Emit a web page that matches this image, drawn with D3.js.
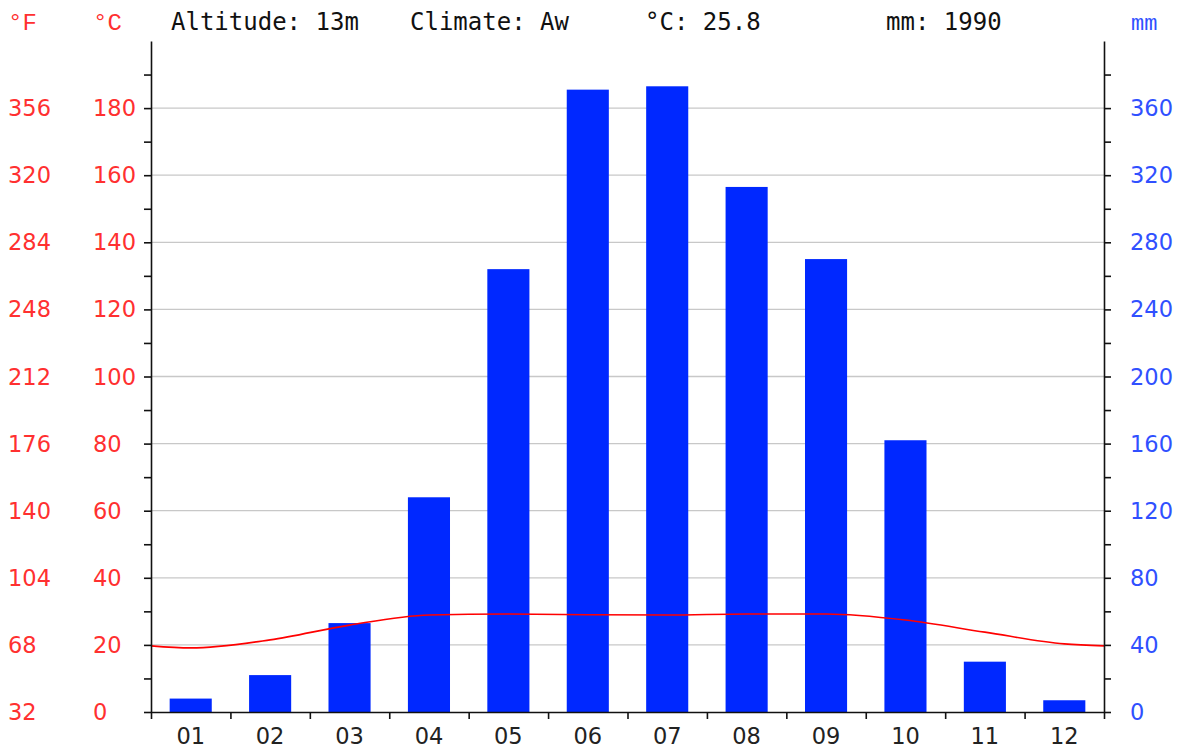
<!DOCTYPE html>
<html>
<head>
<meta charset="utf-8">
<script src="https://cdnjs.cloudflare.com/ajax/libs/d3/7.8.5/d3.min.js"></script>
<style>
  body { margin: 0; background: #fff; }
  svg text { font-family: "DejaVu Sans", sans-serif; }
</style>
</head>
<body>
<div id="chart"></div>
<script>
var width = 1183, height = 751

// data
var months = ['01', '02', '03', '04', '05', '06', '07', '08', '09', '10', '11', '12']
var precip = [8, 22, 53, 128, 264, 371, 373, 313, 270, 162, 30, 7]
var temps = [19.1, 21.5, 25.9, 28.9, 29.2, 29.0, 28.9, 29.2, 29.2, 27.4, 23.8, 20.3]
var tempEdge = 19.7   // value where the curve meets both side axes
var celsiusTicks = [0, 20, 40, 60, 80, 100, 120, 140, 160, 180]
var mmTicks = [0, 40, 80, 120, 160, 200, 240, 280, 320, 360]
var header = [
  { text: 'Altitude: 13m', x: 171 },
  { text: 'Climate: Aw', x: 410 },
  { text: '°C: 25.8', x: 645 },
  { text: 'mm: 1990', x: 886 }
]

var plotLeft = 151, plotRight = 1104, plotBottom = 712, plotTop = 41

var svg = d3.select('#chart')
  .append('svg')
  .attr('width', width)
  .attr('height', height)

var yC = d3.scaleLinear().domain([0, 200]).range([plotBottom, plotTop])
var yMM = d3.scaleLinear().domain([0, 400]).range([plotBottom, plotTop])
var xBand = d3.scaleBand().domain(months).range([plotLeft, plotRight])
  .paddingInner(0.47).paddingOuter(0.235)
var xLin = d3.scaleLinear().domain([0, 12]).range([plotLeft, plotRight])

// grid
svg.append('g')
  .selectAll('line')
  .data(celsiusTicks.filter(d => d > 0))
  .enter()
  .append('line')
  .attr('x1', plotLeft)
  .attr('x2', plotRight)
  .attr('y1', d => yC(d))
  .attr('y2', d => yC(d))
  .attr('stroke', '#c8c8c8')
  .attr('stroke-width', 1.3)

// bars
svg.append('g')
  .selectAll('rect')
  .data(precip)
  .enter()
  .append('rect')
  .attr('x', (d, i) => xBand(months[i]))
  .attr('y', d => yMM(d))
  .attr('width', xBand.bandwidth())
  .attr('height', d => plotBottom - yMM(d))
  .attr('fill', '#0028ff')

// temperature curve
var linePts = [[0, tempEdge]]
temps.forEach((t, i) => linePts.push([i + 0.5, t]))
linePts.push([12, tempEdge])

var line = d3.line()
  .x(d => xLin(d[0]))
  .y(d => yC(d[1]))
  .curve(d3.curveMonotoneX)

svg.append('path')
  .datum(linePts)
  .attr('d', line)
  .attr('fill', 'none')
  .attr('stroke', '#ff0000')
  .attr('stroke-width', 1.6)

// axes
var leftAxis = d3.axisLeft(yC)
  .tickValues(d3.range(0, 200, 10))
  .tickFormat('')
  .tickSize(7)
  .tickSizeOuter(0)

var rightAxis = d3.axisRight(yMM)
  .tickValues(d3.range(0, 400, 20))
  .tickFormat('')
  .tickSize(7)
  .tickSizeOuter(0)

var bottomAxis = d3.axisBottom(xLin)
  .tickValues(d3.range(0, 13))
  .tickFormat('')
  .tickSize(7)
  .tickSizeOuter(0)

svg.append('g')
  .attr('transform', `translate(${plotLeft},0)`)
  .call(leftAxis)
svg.append('g')
  .attr('transform', `translate(${plotRight},0)`)
  .call(rightAxis)
svg.append('g')
  .attr('transform', `translate(0,${plotBottom})`)
  .call(bottomAxis)

svg.selectAll('.domain, .tick line')
  .attr('stroke', '#111')
  .attr('stroke-width', 1.6)

// tick labels
svg.append('g')
  .selectAll('text')
  .data(celsiusTicks)
  .enter()
  .append('text')
  .attr('x', 93)
  .attr('y', d => yC(d) + 8)
  .attr('fill', '#ff3030')
  .attr('font-size', '22.5px')
  .text(d => d)

svg.append('g')
  .selectAll('text')
  .data(celsiusTicks)
  .enter()
  .append('text')
  .attr('x', 8)
  .attr('y', d => yC(d) + 8)
  .attr('fill', '#ff3030')
  .attr('font-size', '22.5px')
  .text(d => Math.round(d * 1.8 + 32))

svg.append('g')
  .selectAll('text')
  .data(mmTicks)
  .enter()
  .append('text')
  .attr('x', 1130)
  .attr('y', d => yMM(d) + 8)
  .attr('fill', '#3050ff')
  .attr('font-size', '22.5px')
  .text(d => d)

svg.append('g')
  .selectAll('text')
  .data(months)
  .enter()
  .append('text')
  .attr('x', d => xBand(d) + xBand.bandwidth() / 2)
  .attr('y', 744)
  .attr('text-anchor', 'middle')
  .attr('fill', '#222')
  .attr('font-size', '22.5px')
  .text(d => d)

// header
svg.append('g')
  .selectAll('text')
  .data(header)
  .enter()
  .append('text')
  .attr('x', d => d.x)
  .attr('y', 30)
  .attr('fill', '#111')
  .style('font-family', '"DejaVu Sans Mono", monospace')
  .attr('font-size', '24px')
  .text(d => d.text)

svg.append('text')
  .attr('x', 8).attr('y', 30)
  .attr('fill', '#ff3030')
  .style('font-family', '"Liberation Mono", monospace')
  .attr('font-size', '24px')
  .text('°F')
svg.append('text')
  .attr('x', 93).attr('y', 30)
  .attr('fill', '#ff3030')
  .style('font-family', '"Liberation Mono", monospace')
  .attr('font-size', '24px')
  .text('°C')
svg.append('text')
  .attr('x', 1131).attr('y', 30)
  .attr('fill', '#3050ff')
  .style('font-family', '"Liberation Mono", monospace')
  .attr('font-size', '22px')
  .text('mm')
</script>
</body>
</html>
